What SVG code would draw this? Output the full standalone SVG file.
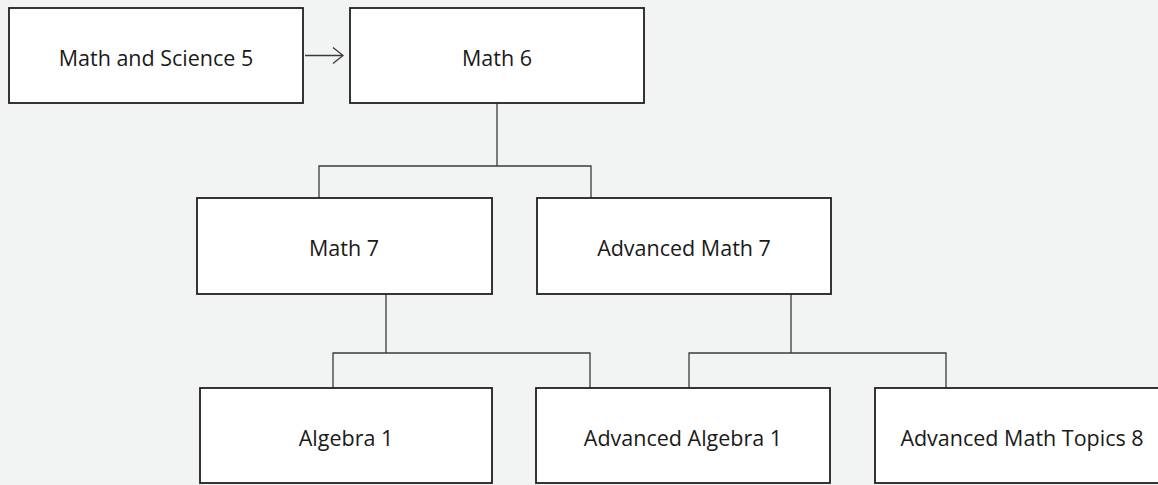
<svg xmlns="http://www.w3.org/2000/svg" width="1158" height="485" viewBox="0 0 1158 485">
  <style>
    .box { fill: #ffffff; stroke: #231f20; stroke-width: 1.8; }
    .lbl { font-family: "Open Sans", "Noto Sans", "Liberation Sans", sans-serif; font-size: 21.5px; fill: #1a1a1a; text-anchor: middle; }
    .con { fill: none; stroke: #3a3a3a; stroke-width: 1.3; }
  </style>
  <rect x="0" y="0" width="1158" height="485" fill="#f1f4f3"/>
  <g id="connectors">
    <line class="con" x1="305" y1="55.5" x2="343" y2="55.5"/>
    <polyline class="con" points="333,47.5 343,55.5 333,63.5"/>
    <path class="con" d="M497,103 V166 M319,198 V166 H591 V198"/>
    <path class="con" d="M386,294 V353 M333,388 V353 H590 V388"/>
    <path class="con" d="M791,294 V353 M689,388 V353 H946 V388"/>
    <path class="con" d="M333,480.5 V483 M961,480.5 V483"/>
  </g>
  <g id="n-math-science-5">
    <rect class="box" x="9" y="8" width="294" height="95"/>
    <text class="lbl" x="156" y="66">Math and Science 5</text>
  </g>
  <g id="n-math-6">
    <rect class="box" x="350" y="8" width="294" height="95"/>
    <text class="lbl" x="497" y="66">Math 6</text>
  </g>
  <g id="n-math-7">
    <rect class="box" x="197" y="198" width="295" height="96"/>
    <text class="lbl" x="344" y="256">Math 7</text>
  </g>
  <g id="n-adv-math-7">
    <rect class="box" x="537" y="198" width="294" height="96"/>
    <text class="lbl" x="684" y="256">Advanced Math 7</text>
  </g>
  <g id="n-algebra-1">
    <rect class="box" x="200" y="388" width="292" height="95"/>
    <text class="lbl" x="346" y="446">Algebra 1</text>
  </g>
  <g id="n-adv-algebra-1">
    <rect class="box" x="536" y="388" width="294" height="95"/>
    <text class="lbl" x="683" y="446">Advanced Algebra 1</text>
  </g>
  <g id="n-adv-math-topics-8">
    <rect class="box" x="875" y="388" width="294" height="95"/>
    <text class="lbl" x="1022" y="446">Advanced Math Topics 8</text>
  </g>
</svg>
